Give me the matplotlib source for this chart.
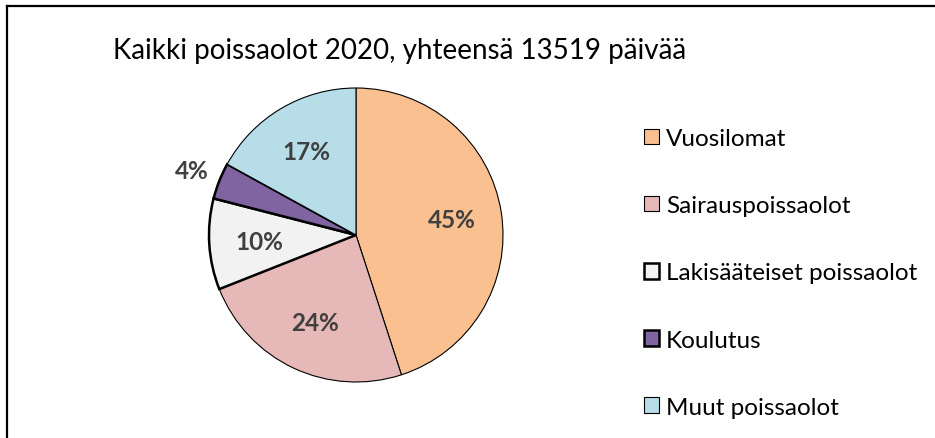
import matplotlib
matplotlib.use('Agg')
import matplotlib.pyplot as plt
from matplotlib.patches import Patch
from matplotlib.lines import Line2D
import numpy as np

# data
labels = ['Vuosilomat', 'Sairauspoissaolot', 'Lakisääteiset poissaolot', 'Koulutus', 'Muut poissaolot']
shares = [45, 24, 10, 4, 17]
colors = ['#FAC090', '#E6B9B8', '#F2F2F2', '#8064A2', '#B7DEE8']
edge_w = [0.8, 0.8, 1.8, 1.8, 0.8]
title = 'Kaikki poissaolot 2020, yhteensä 13519 päivää'

plt.rcParams['font.family'] = ['Lato', 'DejaVu Sans']

W, H = 935, 439
fig = plt.figure(figsize=(W / 100, H / 100), dpi=100)

# pie centre (356, 236) px, radius 147 px
cx, cy, r = 356, 236, 147
span = 1.25
aw, ah = 2 * span * r / W, 2 * span * r / H
ax = fig.add_axes([cx / W - aw / 2, 1 - cy / H - ah / 2, aw, ah])

wedges, _ = ax.pie(shares, colors=colors, startangle=90, counterclock=False,
                   wedgeprops=dict(edgecolor='black'), radius=1, frame=True)
ax.set_xlim(-span, span)
ax.set_ylim(-span, span)
ax.set_aspect('equal')
ax.axis('off')

for w, lw, val in zip(wedges, edge_w, shares):
    w.set_linewidth(lw)
    mid = np.deg2rad((w.theta1 + w.theta2) / 2)
    d = 1.2 if val < 5 else 0.66
    ax.text(d * np.cos(mid), d * np.sin(mid), f'{val}%', ha='center', va='center',
            fontsize=17.5, fontweight='bold', color='#404040')

fig.text(113 / W, 1 - 51 / H, title, ha='left', va='center', fontsize=20, color='black')

handles = [Patch(facecolor=c, edgecolor='black', linewidth=lw) for c, lw in zip(colors, edge_w)]
fig.legend(handles, labels, loc='upper left', bbox_to_anchor=(644 / W, 1 - 129 / H),
           frameon=False, fontsize=17.5, handlelength=0.6, handleheight=0.6,
           handletextpad=0.3, labelspacing=1.9, borderpad=0, borderaxespad=0)

# chart frame (only top and left visible in the crop)
fig.add_artist(Line2D([7 / W, 7 / W], [0, 1 - 7 / H], transform=fig.transFigure, color='black', lw=1.6))
fig.add_artist(Line2D([7 / W, 1], [1 - 7 / H, 1 - 7 / H], transform=fig.transFigure, color='black', lw=1.6))

fig.savefig('out.png', dpi=100, facecolor='white')
